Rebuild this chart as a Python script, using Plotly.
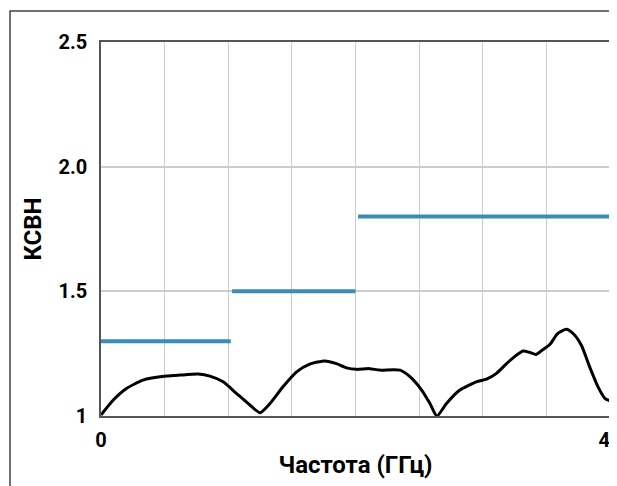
import plotly.graph_objects as go

# VSWR curve (frequency GHz, VSWR)
freq = [0, 0.97, 2.0, 3.3, 5.15, 6.2, 7.64, 8.56, 9.6, 10.66, 11.7, 12.5, 13.28, 14.3,
        15.37, 16.4, 17.6, 18.5, 19.3, 20.07, 21.1, 21.9, 23.5, 24.3, 25.2, 25.85, 26.4,
        27.15, 28.2, 29.5, 30.3, 31.08, 31.87, 32.65, 33.17, 33.7, 34.2, 34.74, 35.27,
        35.9, 36.57, 37.1, 37.75, 38.4, 39.06, 39.6, 40]
vswr = [1.004, 1.064, 1.11, 1.144, 1.16, 1.164, 1.168, 1.16, 1.137, 1.09, 1.044, 1.013,
        1.05, 1.117, 1.177, 1.208, 1.221, 1.21, 1.193, 1.187, 1.19, 1.184, 1.184, 1.157,
        1.104, 1.05, 1.0, 1.05, 1.104, 1.137, 1.148, 1.171, 1.21, 1.244, 1.261, 1.255,
        1.247, 1.267, 1.287, 1.331, 1.348, 1.331, 1.284, 1.197, 1.117, 1.071, 1.061]

# Spec limit segments
limit_start = [0, 10.3, 20.2]
limit_end = [10.2, 20.0, 40]
limit_value = [1.3, 1.5, 1.8]

y_tickvals = [1, 1.5, 2.0, 2.5]
y_ticktext = ["1", "1.5", "2.0", "2.5"]
x_tickvals = [0, 40]
x_ticktext = ["0", "40"]

BLUE = "#3a8db5"
FONT = "Roboto"

fig = go.Figure()
for s, e, v in zip(limit_start, limit_end, limit_value):
    fig.add_trace(go.Scatter(x=[s, e], y=[v, v], mode="lines",
                             line=dict(color=BLUE, width=4), showlegend=False,
                             hoverinfo="skip", cliponaxis=False))
fig.add_trace(go.Scatter(x=freq, y=vswr, mode="lines",
                         line=dict(color="black", width=3, shape="spline", smoothing=0.6),
                         showlegend=False, cliponaxis=False))

# page body has an 8px margin, so the figure is offset by (8, 8)
OFF = 8
W, H = 617, 486
L, T = 101 - OFF, 42 - OFF
R = W - (610 - OFF)
B = H - (416 - OFF)
pw = W - L - R
ph = H - T - B

fig.update_layout(
    width=W, height=H,
    margin=dict(l=L, r=R, t=T, b=B),
    paper_bgcolor="white", plot_bgcolor="white",
    font=dict(family=FONT, color="black"),
    xaxis=dict(range=[0, 40], tickvals=x_tickvals, ticktext=x_ticktext,
               showgrid=False, zeroline=False, showline=True, linecolor="#555",
               linewidth=1.5, mirror=True, ticks="", ticklabelstandoff=5,
               automargin=False,
               tickfont=dict(size=20, family=FONT, weight="bold"),
               minor=dict(dtick=5, tick0=0, showgrid=True, gridcolor="#cccccc", gridwidth=1),
               title=dict(text="<b>Частота (ГГц)</b>", font=dict(size=24, family=FONT),
                          standoff=5)),
    yaxis=dict(range=[1, 2.5], tickvals=y_tickvals, ticktext=y_ticktext,
               showgrid=True, gridcolor="#cccccc", gridwidth=1.5,
               zeroline=False, showline=True, linecolor="#555", linewidth=1.5,
               mirror=True, ticks="", ticklabelstandoff=8, automargin=False,
               tickfont=dict(size=20, family=FONT, weight="bold"),
               title=dict(text="<b>КСВН</b>", font=dict(size=24, family=FONT),
                          standoff=10)),
)

# outer frame
fig.add_shape(type="rect", xref="paper", yref="paper",
              x0=(10 - OFF - L) / pw, x1=1.3, y0=-0.5, y1=(H - B - (11 - OFF)) / ph,
              line=dict(color="#444", width=1.5), fillcolor="rgba(0,0,0,0)", layer="below")

fig.write_html("out.html")
